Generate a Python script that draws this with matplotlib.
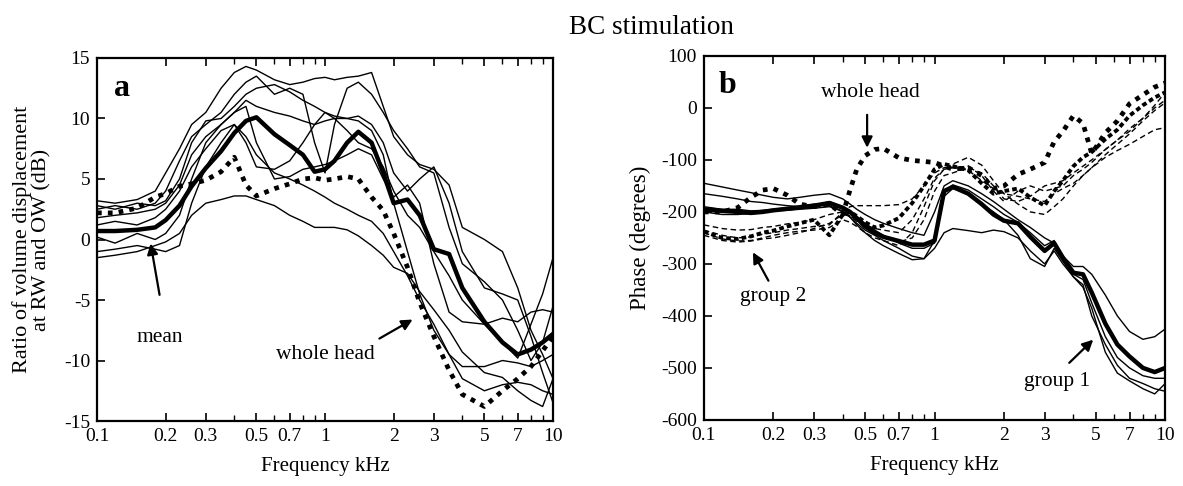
import matplotlib
matplotlib.use('Agg')
import matplotlib.pyplot as plt
from matplotlib.ticker import NullFormatter

plt.rcParams['font.family'] = 'Liberation Serif'
plt.rcParams['axes.unicode_minus'] = False

# ---- panel a: RW/OW volume displacement ratio (dB) ----
freq_a = [0.1, 0.12, 0.15, 0.18, 0.2, 0.23, 0.26, 0.3, 0.35, 0.4, 0.45, 0.5, 0.6, 0.7, 0.8, 0.9, 1.0,
          1.1, 1.25, 1.4, 1.6, 1.8, 2.0, 2.3, 2.6, 3.0, 3.5, 4.0, 5.0, 6.0, 7.0, 8.0, 9.0, 10.0]

ratio_1 = [3.2, 3.0, 3.3, 4.0, 5.5, 7.5, 9.5, 10.5, 12.5, 13.8, 14.3, 14.0, 13.2, 12.8, 13.0, 13.3, 13.4,
           13.2, 13.4, 13.5, 13.8, 11.0, 8.5, 7.0, 6.2, 5.8, 4.5, 1.0, 0.0, -1.0, -4.0, -7.5, -9.5, -11.5]
ratio_2 = [2.5, 2.8, 2.5, 3.0, 4.0, 6.5, 8.5, 9.5, 10.5, 12.0, 13.0, 13.5, 12.0, 12.5, 12.0, 8.0, 5.5,
           9.5, 12.5, 13.0, 12.0, 10.5, 9.0, 7.5, 6.0, 5.5, 1.0, -2.0, -3.5, -5.0, -7.5, -10.0, -8.5, -5.5]
ratio_3 = [1.8, 2.0, 2.2, 2.5, 3.0, 4.5, 7.0, 8.5, 9.5, 10.5, 11.5, 11.0, 10.5, 10.2, 9.8, 9.5, 9.8,
           10.0, 10.0, 10.2, 9.5, 8.0, 5.5, 4.0, 5.0, 6.0, 3.0, -1.0, -4.0, -4.5, -5.0, -8.0, -11.0, -13.5]
ratio_4 = [-1.5, -1.3, -1.0, -0.5, -0.2, 0.5, 2.0, 3.0, 3.3, 3.6, 3.6, 3.3, 2.8, 2.0, 1.5, 1.0, 1.0,
           1.0, 0.8, 0.3, -0.5, -1.3, -2.3, -2.8, -4.3, -5.8, -7.5, -9.3, -11.0, -11.4, -12.5, -13.3, -13.8, -11.5]
ratio_5 = [-1.0, -0.8, -0.5, -0.8, -1.0, -0.5, 3.0, 6.0, 8.0, 9.5, 8.5, 7.0, 5.5, 5.0, 4.5, 4.0, 3.5,
           3.0, 2.5, 2.0, 1.5, 0.5, -1.0, -3.0, -5.0, -7.0, -9.5, -11.5, -12.5, -12.0, -11.8, -12.0, -12.5, -12.8]
ratio_6 = [0.2, -0.3, 0.5, 0.0, 0.5, 2.0, 5.0, 8.0, 9.5, 10.5, 11.0, 8.0, 5.0, 5.2, 5.8, 6.0, 6.2,
           6.5, 7.0, 7.5, 7.0, 5.0, 3.5, 4.5, 3.0, -2.0, -6.0, -6.8, -7.0, -6.5, -6.8, -6.0, -5.8, -6.0]
ratio_7 = [1.2, 1.5, 1.2, 1.8, 2.5, 4.0, 6.0, 7.5, 9.0, 9.5, 8.0, 6.0, 5.8, 6.5, 8.0, 9.5, 10.5,
           10.0, 9.0, 8.0, 7.5, 6.0, 4.0, 2.0, 1.0, -1.0, -3.0, -5.0, -7.0, -8.5, -9.8, -7.0, -4.5, -1.5]
ratio_8 = [2.8, 2.5, 3.0, 2.8, 3.2, 5.0, 8.0, 9.8, 10.0, 11.0, 12.0, 12.5, 12.8, 12.2, 11.5, 11.0, 10.5,
           10.2, 10.0, 9.8, 9.0, 7.0, 3.0, -1.0, -4.5, -7.5, -9.5, -10.5, -10.5, -10.0, -10.2, -10.5, -10.0, -9.5]
whole_head_a = [2.2, 2.2, 2.6, 3.5, 3.8, 4.4, 4.6, 4.9, 5.6, 6.8, 4.5, 3.6, 4.2, 4.6, 5.0, 5.1, 4.9,
                5.0, 5.2, 5.0, 3.5, 2.4, 0.5, -2.3, -5.2, -8.0, -10.8, -12.8, -13.8, -12.5, -11.5, -10.5, -9.2, -8.0]
mean_a = [0.7, 0.7, 0.8, 1.0, 1.6, 2.8, 4.4, 5.9, 7.3, 8.8, 9.8, 10.1, 8.7, 7.8, 7.0, 5.6, 5.8,
          6.5, 8.0, 8.9, 8.0, 5.5, 3.0, 3.3, 2.0, -0.8, -1.2, -4.0, -6.8, -8.5, -9.5, -9.1, -8.5, -7.8]

# ---- panel b: phase (degrees) ----
freq_b = [0.1, 0.12, 0.14, 0.16, 0.18, 0.2, 0.23, 0.26, 0.3, 0.35, 0.4, 0.43, 0.46, 0.5, 0.55, 0.6, 0.7,
          0.8, 0.9, 1.0, 1.1, 1.2, 1.4, 1.6, 1.8, 2.0, 2.3, 2.6, 3.0, 3.3, 3.6, 4.0, 4.4, 4.8, 5.5, 6.2,
          7.0, 8.0, 9.0, 10.0]

g1_1 = [-145, -152, -158, -163, -168, -172, -175, -172, -168, -165, -175, -185, -195, -205, -215, -222, -232,
        -240, -245, -200, -150, -140, -150, -165, -180, -195, -215, -230, -250, -260, -285, -305, -305, -320,
        -360, -400, -430, -445, -440, -425]
g1_2 = [-165, -170, -175, -180, -182, -185, -188, -190, -188, -180, -190, -200, -210, -222, -235, -245, -260,
        -270, -270, -260, -160, -148, -158, -175, -190, -205, -220, -240, -265, -255, -290, -320, -330, -375,
        -440, -480, -500, -515, -520, -520]
g1_3 = [-190, -195, -195, -198, -197, -195, -192, -190, -185, -188, -200, -210, -222, -235, -245, -255, -270,
        -285, -290, -270, -240, -232, -236, -240, -235, -238, -250, -275, -300, -275, -300, -325, -340, -400,
        -455, -495, -520, -530, -540, -545]
g1_4 = [-200, -205, -205, -203, -200, -198, -197, -195, -193, -190, -198, -210, -225, -240, -255, -265, -280,
        -292, -290, -255, -170, -155, -165, -185, -200, -215, -245, -290, -305, -270, -295, -325, -345, -385,
        -470, -510, -525, -540, -550, -530]
g1_mean = [-195, -198, -200, -202, -200, -197, -194, -191, -188, -183, -192, -200, -212, -228, -240, -248, -256,
           -263, -263, -255, -160, -152, -165, -185, -205, -217, -222, -248, -275, -260, -288, -317, -320, -355,
           -415, -455, -478, -500, -508, -500]

g2_1 = [-235, -245, -250, -248, -243, -240, -235, -232, -228, -225, -200, -190, -188, -188, -188, -188, -186,
        -175, -150, -125, -115, -115, -120, -140, -155, -165, -170, -175, -180, -165, -155, -145, -130, -115,
        -95, -82, -70, -55, -42, -38]
g2_2 = [-240, -252, -256, -255, -250, -245, -240, -237, -235, -230, -215, -220, -228, -240, -250, -255, -265,
        -240, -190, -140, -118, -108, -95, -110, -140, -165, -185, -200, -205, -190, -175, -150, -130, -115,
        -90, -70, -50, -25, -5, 10]
g2_3 = [-225, -232, -235, -234, -230, -228, -223, -220, -215, -205, -200, -208, -218, -230, -240, -248, -258,
        -250, -215, -160, -130, -125, -115, -125, -150, -175, -180, -170, -150, -145, -140, -125, -112, -100,
        -80, -62, -40, -20, 0, 15]
g2_4 = [-245, -255, -258, -256, -252, -250, -245, -240, -232, -222, -205, -208, -215, -225, -232, -235, -240,
        -215, -175, -135, -118, -115, -112, -130, -160, -180, -160, -150, -160, -155, -150, -130, -118, -105,
        -80, -62, -45, -20, 5, 30]
g2_mean = [-238, -250, -252, -247, -240, -236, -228, -222, -215, -245, -205, -200, -208, -220, -230, -226, -212,
           -183, -150, -118, -108, -112, -120, -145, -165, -160, -155, -172, -188, -160, -140, -112, -95, -85,
           -60, -42, -15, 5, 20, 30]
whole_head_b = [-200, -200, -192, -172, -158, -155, -168, -185, -190, -185, -205, -158, -118, -92, -80, -78, -96,
                -101, -103, -105, -112, -118, -115, -130, -155, -150, -128, -118, -105, -65, -45, -15, -30, -88,
                -48, -25, 8, 25, 40, 48]

xtick_vals = [0.1, 0.2, 0.3, 0.5, 0.7, 1, 2, 3, 5, 7, 10]
xtick_text = ['0.1', '0.2', '0.3', '0.5', '0.7', '1', '2', '3', '5', '7', '10']
xtick_minor = [0.4, 0.6, 0.8, 0.9, 4, 6, 8, 9]


def style_axes(ax, ylim, yticks):
    ax.set_xscale('log')
    ax.set_xlim(0.1, 10)
    ax.set_ylim(*ylim)
    ax.set_xticks(xtick_vals)
    ax.set_xticklabels(xtick_text)
    ax.set_xticks(xtick_minor, minor=True)
    ax.xaxis.set_minor_formatter(NullFormatter())
    ax.set_yticks(yticks)
    ax.tick_params(which='major', direction='in', length=6, width=1.2, labelsize=14, top=True, pad=5)
    ax.tick_params(which='minor', direction='in', length=4, width=1.0, top=True)
    for s in ax.spines.values():
        s.set_linewidth(1.6)
    ax.set_xlabel('Frequency kHz', fontsize=15, labelpad=9)


fig = plt.figure(figsize=(11.83, 4.86), dpi=100)
ax_a = fig.add_axes([0.082, 0.1337, 0.3855, 0.747])
ax_b = fig.add_axes([0.595, 0.136, 0.390, 0.749])

# panel a
for r in [ratio_1, ratio_2, ratio_3, ratio_4, ratio_5, ratio_6, ratio_7, ratio_8]:
    ax_a.plot(freq_a, r, color='black', lw=1.0)
ax_a.plot(freq_a, whole_head_a, color='black', lw=3.4, ls=(0, (1, 1.3)))
ax_a.plot(freq_a, mean_a, color='black', lw=3.2)
style_axes(ax_a, (-15, 15), [-15, -10, -5, 0, 5, 10, 15])
ax_a.set_ylabel('Ratio of volume displacement\nat RW and OW (dB)', fontsize=16, linespacing=1.0)
ax_a.yaxis.set_label_coords(-0.1, 0.5)

ax_a.text(0.129, 12.5, 'a', fontsize=23, fontweight='bold', ha='center', va='center')
ax_a.text(0.189, -8.1, 'mean', fontsize=15.5, ha='center', va='center')
ax_a.annotate('', xy=(0.171, -0.1), xytext=(0.189, -4.8),
              arrowprops=dict(arrowstyle='-|>', color='black', lw=1.6, mutation_scale=16))
ax_a.text(1.0, -9.5, 'whole head', fontsize=15.5, ha='center', va='center')
ax_a.annotate('', xy=(2.48, -6.5), xytext=(1.69, -8.3),
              arrowprops=dict(arrowstyle='-|>', color='black', lw=1.6, mutation_scale=16))

# panel b
for p in [g1_1, g1_2, g1_3, g1_4]:
    ax_b.plot(freq_b, p, color='black', lw=1.0)
for p in [g2_1, g2_2, g2_3, g2_4]:
    ax_b.plot(freq_b, p, color='black', lw=1.0, ls=(0, (4, 2.5)))
ax_b.plot(freq_b, g2_mean, color='black', lw=2.8, ls=(0, (1.2, 0.8)))
ax_b.plot(freq_b, whole_head_b, color='black', lw=3.4, ls=(0, (1, 1.3)))
ax_b.plot(freq_b, g1_mean, color='black', lw=3.2)
style_axes(ax_b, (-600, 100), [-600, -500, -400, -300, -200, -100, 0, 100])
ax_b.set_ylabel('Phase (degrees)', fontsize=16.5)
ax_b.yaxis.set_label_coords(-0.115, 0.5)

ax_b.text(0.127, 44, 'b', fontsize=23, fontweight='bold', ha='center', va='center')
ax_b.text(0.525, 29, 'whole head', fontsize=15.5, ha='center', va='center')
ax_b.annotate('', xy=(0.51, -82), xytext=(0.51, -8),
              arrowprops=dict(arrowstyle='-|>', color='black', lw=1.6, mutation_scale=16))
ax_b.text(0.2, -363, 'group 2', fontsize=15.5, ha='center', va='center')
ax_b.annotate('', xy=(0.161, -273), xytext=(0.193, -337),
              arrowprops=dict(arrowstyle='-|>', color='black', lw=1.6, mutation_scale=16))
ax_b.text(3.4, -527, 'group 1', fontsize=15.5, ha='center', va='center')
ax_b.annotate('', xy=(4.97, -442), xytext=(3.76, -494),
              arrowprops=dict(arrowstyle='-|>', color='black', lw=1.6, mutation_scale=16))

fig.text(0.551, 1 - 28 / 486, 'BC stimulation', fontsize=19.5, ha='center', va='center')

fig.savefig('out.png', dpi=100)
